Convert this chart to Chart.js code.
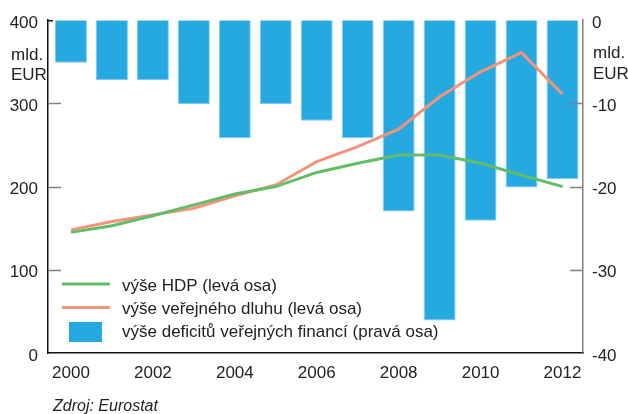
<!DOCTYPE html>
<html>
<head>
<meta charset="utf-8">
<script src="https://cdn.jsdelivr.net/npm/chart.js@4/dist/chart.umd.min.js"></script>
<style>
  html, body { margin: 0; padding: 0; background: #fff; }
  #wrap { width: 628px; height: 414px; position: relative; }
</style>
</head>
<body>
<div id="wrap"><canvas id="c" width="628" height="414"></canvas></div>
<script>
const years = [2000, 2001, 2002, 2003, 2004, 2005, 2006, 2007, 2008, 2009, 2010, 2011, 2012];
const hdp = [145, 153, 165, 178, 191, 200, 217, 228, 238, 238, 228, 214, 200];
const debt = [148, 158, 166, 174, 189, 202, 230, 248, 269, 308, 338, 361, 311];
const deficit = [-5.1, -7.2, -7.2, -10.1, -14.2, -10.1, -12.1, -14.2, -23.0, -36.1, -24.1, -20.1, -19.1];
const xTickYears = [2000, 2002, 2004, 2006, 2008, 2010, 2012];
const leftTicks = [0, 100, 200, 300, 400];
const rightTicks = [-40, -30, -20, -10, 0];
const legendLabels = ['výše HDP (levá osa)', 'výše veřejného dluhu (levá osa)', 'výše deficitů veřejných financí (pravá osa)'];
const unitLabel = ['mld.', 'EUR'];
const sourceLabel = 'Zdroj: Eurostat';

const GREEN = '#62BC68';
const ORANGE = '#F4937A';
const BLUE = '#25A9E0';
const FONT = '"Liberation Sans", Arial, sans-serif';
const TXT = '#222';

const pts = arr => years.map((y, i) => ({ x: y, y: arr[i] }));

const overlay = {
  id: 'overlay',
  afterDraw(chart) {
    const ctx = chart.ctx;
    const a = chart.chartArea;
    const yl = chart.scales.y, yr = chart.scales.y1;
    ctx.save();
    ctx.strokeStyle = '#808080';
    ctx.lineWidth = 1.5;
    [100, 200, 300].forEach(v => {
      const py = Math.round(yl.getPixelForValue(v)) + 0.5;
      ctx.beginPath(); ctx.moveTo(a.left, py); ctx.lineTo(a.left + 13, py); ctx.stroke();
    });
    [-10, -20, -30].forEach(v => {
      const py = Math.round(yr.getPixelForValue(v)) + 0.5;
      ctx.beginPath(); ctx.moveTo(a.right - 13, py); ctx.lineTo(a.right, py); ctx.stroke();
    });
    ctx.strokeStyle = '#111';
    ctx.beginPath(); ctx.moveTo(a.left, a.top + 0.5); ctx.lineTo(a.left + 5, a.top + 0.5); ctx.stroke();

    ctx.fillStyle = TXT;
    ctx.font = '17px ' + FONT;
    ctx.textBaseline = 'alphabetic';
    ctx.textAlign = 'left';
    ctx.fillText(unitLabel[0], 11, 60);
    ctx.fillText(unitLabel[1], 11, 80);
    ctx.fillText(unitLabel[0], 593, 58);
    ctx.fillText(unitLabel[1], 593, 79);

    ctx.lineWidth = 3;
    ctx.strokeStyle = GREEN;
    ctx.beginPath(); ctx.moveTo(62, 284); ctx.lineTo(110, 284); ctx.stroke();
    ctx.strokeStyle = ORANGE;
    ctx.beginPath(); ctx.moveTo(62, 307.5); ctx.lineTo(110, 307.5); ctx.stroke();
    ctx.fillStyle = BLUE;
    ctx.fillRect(69, 322, 33, 20);
    ctx.fillStyle = TXT;
    ctx.font = '17px ' + FONT;
    ctx.fillText(legendLabels[0], 122, 291);
    ctx.fillText(legendLabels[1], 122, 313.5);
    ctx.fillText(legendLabels[2], 122, 336.5);

    ctx.font = 'italic 16px ' + FONT;
    ctx.fillText(sourceLabel, 53, 411);
    ctx.restore();
  }
};

new Chart(document.getElementById('c'), {
  type: 'bar',
  data: {
    datasets: [
      { type: 'line', label: legendLabels[0], data: pts(hdp), yAxisID: 'y', borderColor: GREEN, borderWidth: 3, pointRadius: 0, tension: 0, order: 0 },
      { type: 'line', label: legendLabels[1], data: pts(debt), yAxisID: 'y', borderColor: ORANGE, borderWidth: 3, pointRadius: 0, tension: 0, order: 0 },
      { type: 'bar', label: legendLabels[2], data: pts(deficit), yAxisID: 'y1', backgroundColor: BLUE, borderColor: '#7DCBEF', borderWidth: 1, barPercentage: 0.78, categoryPercentage: 1, order: 1 }
    ]
  },
  options: {
    responsive: false,
    animation: false,
    layout: { padding: { top: 20, left: 0, right: 0, bottom: 0 } },
    plugins: { legend: { display: false }, tooltip: { enabled: false } },
    scales: {
      x: {
        type: 'linear',
        offset: false,
        min: 1999.4385,
        max: 2012.5005,
        afterBuildTicks: s => { s.ticks = xTickYears.map(v => ({ value: v })); },
        afterFit: s => { s.height = 61; },
        grid: { display: false, drawTicks: false, offset: false },
        border: { display: true, color: '#111', width: 1.5 },
        ticks: { padding: 10, color: TXT, font: { family: FONT, size: 17 }, callback: v => String(v), maxRotation: 0, autoSkip: false }
      },
      y: {
        position: 'left',
        min: 0, max: 400,
        afterBuildTicks: s => { s.ticks = leftTicks.map(v => ({ value: v })); },
        afterFit: s => { s.width = 48; },
        grid: { display: false, drawTicks: false },
        border: { display: true, color: '#111', width: 1.5 },
        ticks: { padding: 10, labelOffset: 3, color: TXT, font: { family: FONT, size: 17 } }
      },
      y1: {
        position: 'right',
        min: -40, max: 0,
        afterBuildTicks: s => { s.ticks = rightTicks.map(v => ({ value: v })); },
        afterFit: s => { s.width = 45; },
        grid: { display: false, drawTicks: false },
        border: { display: true, color: '#808080', width: 1.5 },
        ticks: { padding: 9, labelOffset: 3, color: TXT, font: { family: FONT, size: 17 }, callback: v => String(v) }
      }
    }
  },
  plugins: [overlay]
});
</script>
</body>
</html>
